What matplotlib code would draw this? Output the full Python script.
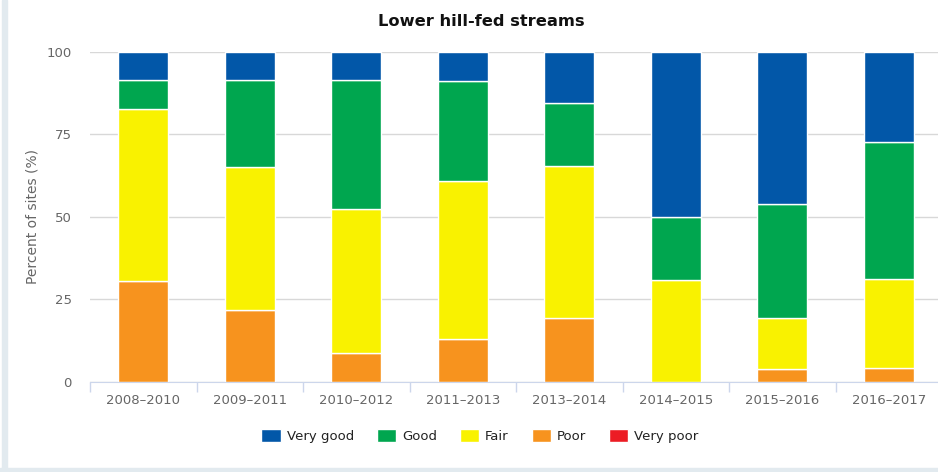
import matplotlib
matplotlib.use("Agg")
import matplotlib.pyplot as plt
from matplotlib.patches import Rectangle
import numpy as np

# periods on the x axis
periods = ["2008–2010", "2009–2011", "2010–2012", "2011–2013",
           "2013–2014", "2014–2015", "2015–2016", "2016–2017"]

# percent of sites in each grade
very_poor = [0, 0, 0, 0, 0, 0, 0, 0]
poor = [30.4, 21.7, 8.7, 13.0, 19.2, 0, 3.8, 4.0]
fair = [52.2, 43.5, 43.5, 47.8, 46.2, 30.8, 15.4, 27.1]
good = [8.7, 26.1, 39.1, 30.4, 19.2, 19.2, 34.6, 41.6]
very_good = [8.7, 8.7, 8.7, 8.7, 15.4, 50.0, 46.2, 27.3]

colors = {
    "Very good": "#0257a8",
    "Good": "#00a64f",
    "Fair": "#f9f200",
    "Poor": "#f7931e",
    "Very poor": "#ec1c24",
}

fig = plt.figure(figsize=(9.38, 4.72), dpi=100)
W, H = 938, 472

# light frame at left and bottom
fig.patches.append(Rectangle((2 / W, 0), 5 / W, 1, transform=fig.transFigure,
                             color="#e2eaef", zorder=0))
fig.patches.append(Rectangle((0, 0), 1, 4 / H, transform=fig.transFigure,
                             color="#e2eaef", zorder=0))

ax = fig.add_axes([90 / W, 1 - 381.7 / H, 852 / W, 330 / H])

x = np.arange(len(periods))
series = [("Very poor", very_poor), ("Poor", poor), ("Fair", fair),
          ("Good", good), ("Very good", very_good)]
bottom = np.zeros(len(periods))
handles = {}
for name, vals in series:
    vals = np.array(vals, dtype=float)
    b = ax.bar(x, vals, bottom=bottom, width=0.47, color=colors[name],
               edgecolor="white", linewidth=1, label=name, zorder=3)
    handles[name] = b
    bottom += vals

ax.set_xlim(-0.5, len(periods) - 0.5)
ax.set_ylim(0, 100)
ax.set_yticks([0, 25, 50, 75, 100])
ax.yaxis.grid(True, color="#d8d8d8", linewidth=1, zorder=0)
ax.set_axisbelow(True)

for s in ["top", "right", "left"]:
    ax.spines[s].set_visible(False)
ax.spines["bottom"].set_color("#ccd6eb")
ax.spines["bottom"].set_zorder(4)

ax.set_xticks(x)
ax.set_xticklabels(periods)
ax.set_xticks(np.arange(-0.5, len(periods)), minor=True)
ax.tick_params(axis="x", which="major", length=0, pad=9, labelsize=9.5,
               labelcolor="#666666")
ax.tick_params(axis="x", which="minor", length=7.5, color="#ccd6eb", width=1)
ax.tick_params(axis="y", length=0, pad=13, labelsize=9.5, labelcolor="#666666")

fig.text(33 / W, 1 - 216 / H, "Percent of sites (%)", rotation=90,
         ha="center", va="center", fontsize=10, color="#666666")
fig.text(481 / W, 1 - 21 / H, "Lower hill-fed streams", ha="center",
         va="center", fontsize=11.7, fontweight="bold", color="#111111")

order = ["Very good", "Good", "Fair", "Poor", "Very poor"]
leg = fig.legend([handles[n] for n in order], order, ncol=5,
                 loc="center", bbox_to_anchor=(480 / W, 1 - 436 / H),
                 frameon=False, fontsize=9.5, handlelength=1.45,
                 handleheight=1.1, handletextpad=0.45, columnspacing=1.75)
for t in leg.get_texts():
    t.set_color("#222222")

fig.savefig("out.png", dpi=100)
